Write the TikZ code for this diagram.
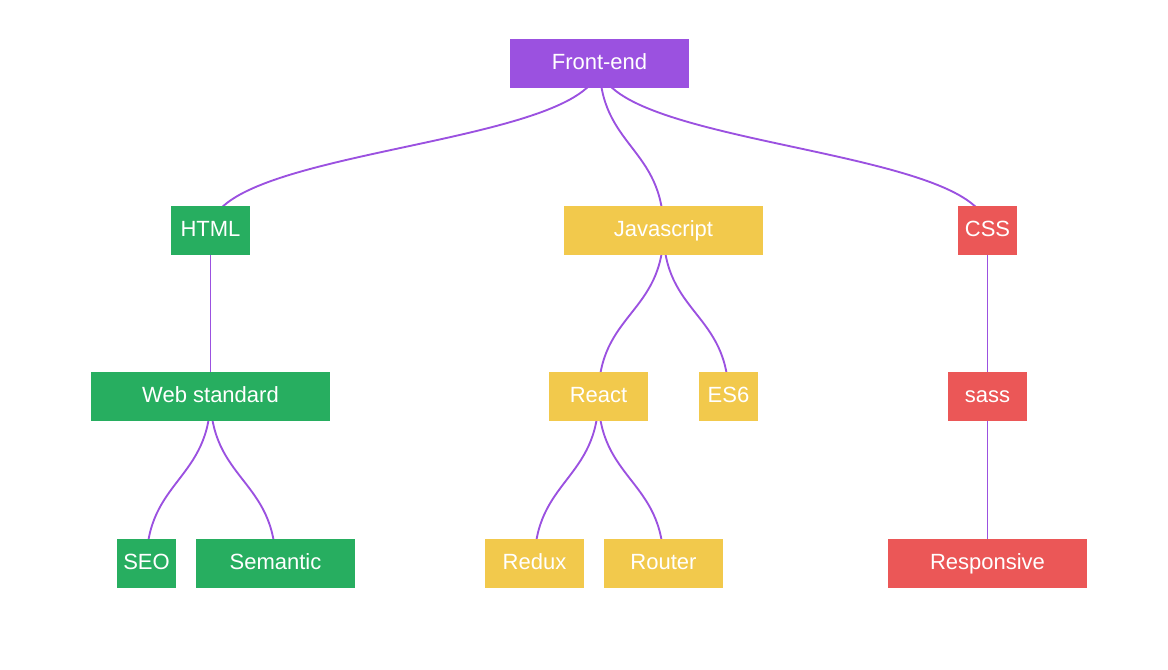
\documentclass[tikz,border=0pt]{standalone}
\usepackage{fontspec}
\setmainfont{Liberation Sans}
\usepackage{xcolor}
\usepackage{tikz}
\usetikzlibrary{backgrounds}

\definecolor{rootpurple}{HTML}{9B51E0}
\definecolor{htmlgreen}{HTML}{27AE60}
\definecolor{jsyellow}{HTML}{F2C94C}
\definecolor{cssred}{HTML}{EB5757}

\begin{document}
\begin{tikzpicture}[
    x=0.75pt, y=-0.75pt,
    topic/.style={inner sep=0pt, minimum height=36.75pt, text height=11.9pt, text depth=3.5pt, text=white, font=\fontsize{16.5}{19}\selectfont},
    root/.style={topic, fill=rootpurple},
    green/.style={topic, fill=htmlgreen},
    yellow/.style={topic, fill=jsyellow},
    red/.style={topic, fill=cssred},
    link/.style={draw=rootpurple, line width=1.4pt, to path={.. controls +(0,83.5) and +(0,-83.5) .. (\tikztotarget)}}
]
\useasboundingbox (0,0) rectangle (1168,670);

% root
\node[root, minimum width=134.25pt] (frontend) at (599.5,63.5) {Front-end};

% first level
\node[green, minimum width=59.25pt] (html) at (210.5,230.5) {HTML};
\node[yellow, minimum width=149.25pt] (js) at (663.5,230.5) {Javascript};
\node[red, minimum width=44.25pt] (css) at (987.5,230.5) {CSS};

% second level
\node[green, minimum width=179.25pt] (webstd) at (210.5,396.5) {Web standard};
\node[yellow, minimum width=74.25pt] (react) at (598.5,396.5) {React};
\node[yellow, minimum width=44.25pt] (es6) at (728.5,396.5) {ES6};
\node[red, minimum width=59.25pt] (sass) at (987.5,396.5) {sass};

% third level
\node[green, minimum width=44.25pt] (seo) at (146.5,563.5) {SEO};
\node[green, minimum width=119.25pt] (semantic) at (275.5,563.5) {Semantic};
\node[yellow, minimum width=74.25pt] (redux) at (534.5,563.5) {Redux};
\node[yellow, minimum width=89.25pt] (router) at (663.5,563.5) {Router};
\node[red, minimum width=149.25pt] (responsive) at (987.5,563.5) {Responsive};

\begin{pgfonlayer}{background}
\draw[link] (frontend.center) to (html.center);
\draw[link] (frontend.center) to (js.center);
\draw[link] (frontend.center) to (css.center);
\draw[link] (html.center) to (webstd.center);
\draw[link] (js.center) to (react.center);
\draw[link] (js.center) to (es6.center);
\draw[link] (css.center) to (sass.center);
\draw[link] (webstd.center) to (seo.center);
\draw[link] (webstd.center) to (semantic.center);
\draw[link] (react.center) to (redux.center);
\draw[link] (react.center) to (router.center);
\draw[link] (sass.center) to (responsive.center);
\end{pgfonlayer}
\end{tikzpicture}
\end{document}
